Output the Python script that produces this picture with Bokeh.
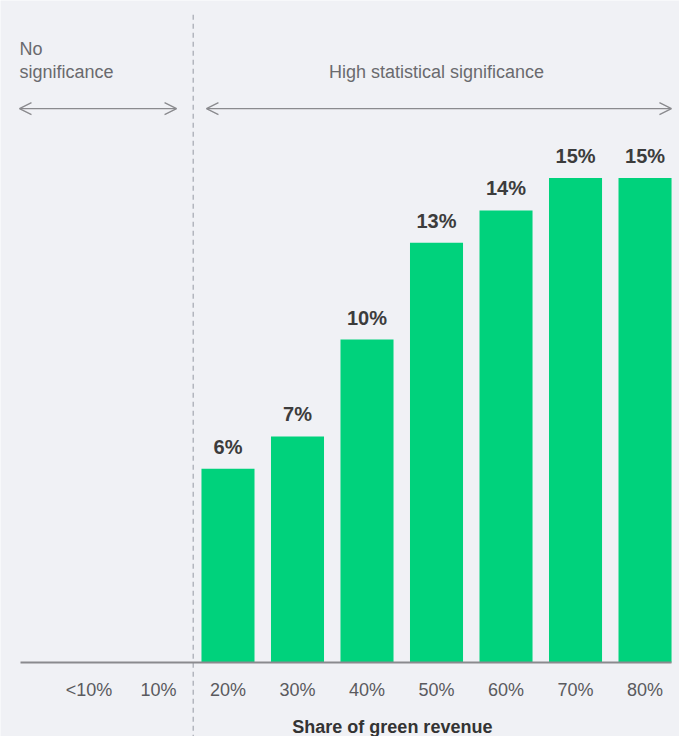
from bokeh.plotting import figure
from bokeh.models import Range1d, FixedTicker, Arrow, OpenHead, ColumnDataSource
from bokeh.core.properties import value
from bokeh.embed import file_html
from bokeh.resources import INLINE

categories = ["<10%", "10%", "20%", "30%", "40%", "50%", "60%", "70%", "80%"]
shares = [0, 0, 6, 7, 10, 13, 14, 15, 15]
labels = ["", "", "6%", "7%", "10%", "13%", "14%", "15%", "15%"]

BG = "#f0f1f5"
GREEN = "#00d27c"
FONT = "Liberation Sans"

xs = list(range(len(categories)))
src = ColumnDataSource(dict(x=xs, top=shares, lab=labels, cat=categories))

p = figure(width=679, height=736, output_backend="svg", toolbar_location=None,
           x_range=Range1d(-1.273, 8.496), y_range=Range1d(-2.29, 20.5),
           min_border=0, background_fill_color=BG, border_fill_color=BG,
           outline_line_color=None)
p.grid.visible = False
p.yaxis.visible = False

p.vbar(x="x", top="top", bottom=0, width=0.763, source=src, color=GREEN, line_color=None)

p.text(x="x", y="top", text="lab", source=src, text_align="center", text_baseline="middle",
       y_offset=-22, text_font=value(FONT), text_font_style="bold", text_font_size="20px",
       text_color="#3c3c3c")

# divider between "no significance" and "high significance"
p.segment(x0=[1.5], y0=[20.06], x1=[1.5], y1=[-2.4], line_color="#b3b6be",
          line_width=1.5, line_dash="5 4")

# x axis
ax = p.xaxis[0]
ax.fixed_location = 0
ax.ticker = FixedTicker(ticks=xs)
ax.major_label_overrides = {i: c for i, c in enumerate(categories)}
ax.major_tick_line_color = None
ax.minor_tick_line_color = None
ax.axis_line_color = "#8a8a8e"
ax.axis_line_width = 2
ax.bounds = (-0.986, 8.381)
ax.major_label_text_font = FONT
ax.major_label_text_font_size = "18px"
ax.major_label_text_color = "#5a5a5e"
ax.major_label_standoff = 11

p.text(x=[4.365], y=[-2.0], text=["Share of green revenue"], text_align="center",
       text_baseline="middle", text_font=value(FONT), text_font_style="bold",
       text_font_size="18px", text_color="#333333")

# significance annotations
p.text(x=[-1.0, -1.0], y=[19.0, 18.3], text=["No", "significance"], text_align="left",
       text_baseline="middle", text_font=value(FONT), text_font_size="18px",
       text_color="#6a6a6e")
p.text(x=[5.0], y=[18.3], text=["High statistical significance"], text_align="center",
       text_baseline="middle", text_font=value(FONT), text_font_size="18px",
       text_color="#6a6a6e")

for xa, xb in [(-1.0, 1.26), (1.69, 8.38)]:
    p.add_layout(Arrow(x_start=xa, y_start=17.15, x_end=xb, y_end=17.15,
                       line_color="#8a8a8e", line_width=1.3,
                       start=OpenHead(size=12, line_color="#8a8a8e", line_width=1.3),
                       end=OpenHead(size=12, line_color="#8a8a8e", line_width=1.3)))

open("out.html", "w").write(file_html(p, INLINE))
